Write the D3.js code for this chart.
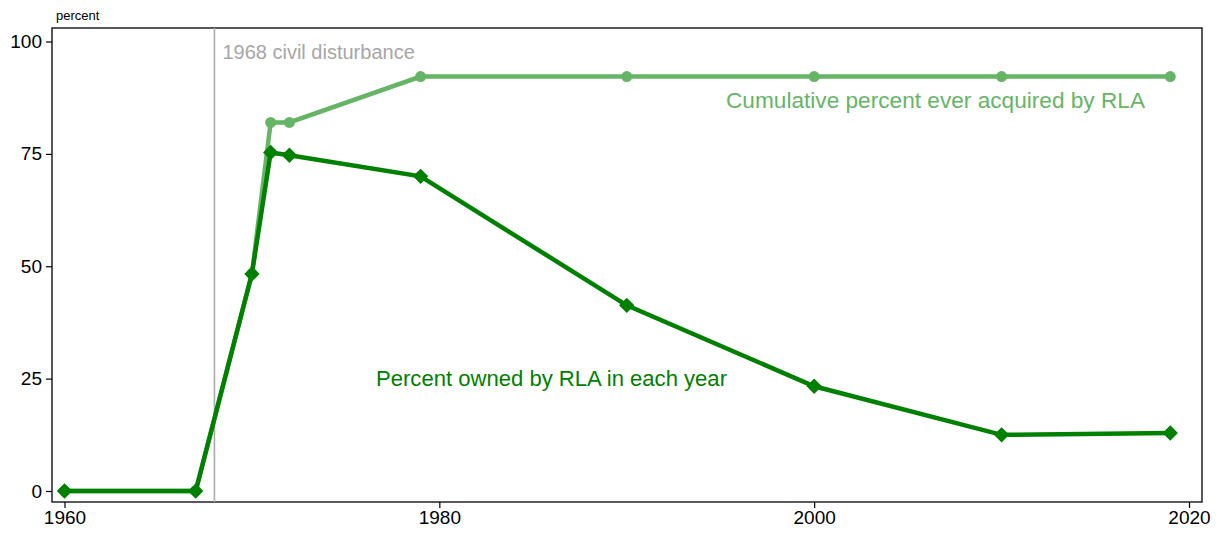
<!DOCTYPE html>
<html><head><meta charset="utf-8">
<script src="https://cdn.jsdelivr.net/npm/d3@7"></script>
<style>body{margin:0;background:#fff}svg{display:block;font-family:"Liberation Sans",Arial,sans-serif}</style>
</head><body><svg id="c" width="1220" height="535"></svg>
<script>
const years = [1960, 1967, 1970, 1971, 1972, 1979, 1990, 2000, 2010, 2019];
const ownedPct = [0, 0, 48.3, 75.3, 74.7, 70.0, 41.3, 23.3, 12.5, 12.9];
const cumulativePct = [0, 0, 48.3, 82.0, 82.0, 92.2, 92.2, 92.2, 92.2, 92.2];
const xTicks = [1960, 1980, 2000, 2020];
const yTicks = [0, 25, 50, 75, 100];
const eventYear = 1968;

const svg = d3.select("#c");
const L = 52, R = 1202, T = 28, B = 502;
const x = d3.scaleLinear().domain([1960, 2020]).range([64.5, 1189]);
const y = d3.scaleLinear().domain([0, 100]).range([491, 41.5]);

const lightC = "#66b566", darkC = "#008000";

svg.append("rect").attr("x", L).attr("y", T).attr("width", R - L).attr("height", B - T)
  .attr("fill", "none").attr("stroke", "#000").attr("stroke-width", 1.3);

const xa = svg.append("g").attr("transform", `translate(0,${B})`)
  .call(d3.axisBottom(x).tickValues(xTicks).tickFormat(d3.format("d")).tickSize(6).tickPadding(3));
xa.select(".domain").remove();
xa.selectAll("text").attr("font-size", 19).attr("fill", "#000").attr("font-family", "Liberation Sans, Arial, sans-serif");
xa.selectAll("line").attr("stroke", "#000").attr("stroke-width", 1.2);

const ya = svg.append("g").attr("transform", `translate(${L},0)`)
  .call(d3.axisLeft(y).tickValues(yTicks).tickSize(6).tickPadding(4));
ya.select(".domain").remove();
ya.selectAll("text").attr("font-size", 19).attr("fill", "#000").attr("font-family", "Liberation Sans, Arial, sans-serif");
ya.selectAll("line").attr("stroke", "#000").attr("stroke-width", 1.2);

svg.append("text").attr("x", 56).attr("y", 20).attr("font-size", 13).text("percent");

svg.append("line").attr("x1", x(eventYear)).attr("x2", x(eventYear)).attr("y1", T).attr("y2", B)
  .attr("stroke", "#aaa").attr("stroke-width", 1.6);
svg.append("text").attr("x", x(eventYear) + 8).attr("y", 59).attr("font-size", 20)
  .attr("fill", "#a6a6a6").text("1968 civil disturbance");

const line = d3.line().x(d => x(d[0])).y(d => y(d[1]));
const cum = years.map((yr, i) => [yr, cumulativePct[i]]);
const own = years.map((yr, i) => [yr, ownedPct[i]]);

svg.append("path").attr("d", line(cum)).attr("fill", "none").attr("stroke", lightC).attr("stroke-width", 4.5);
svg.selectAll("circle.c").data(cum).join("circle").attr("class", "c")
  .attr("cx", d => x(d[0])).attr("cy", d => y(d[1])).attr("r", 5.5).attr("fill", lightC);

svg.append("path").attr("d", line(own)).attr("fill", "none").attr("stroke", darkC).attr("stroke-width", 4.5);
const dsym = d3.symbol().type(d3.symbolDiamond2).size(150);
svg.selectAll("path.d").data(own).join("path").attr("class", "d")
  .attr("transform", d => `translate(${x(d[0])},${y(d[1])})`).attr("d", dsym).attr("fill", darkC);

svg.append("text").attr("x", 726).attr("y", 108).attr("font-size", 22.5).attr("fill", lightC)
  .attr("textLength", 419).attr("lengthAdjust", "spacingAndGlyphs")
  .text("Cumulative percent ever acquired by RLA");
svg.append("text").attr("x", 376).attr("y", 386).attr("font-size", 22.5).attr("fill", darkC)
  .attr("textLength", 351).attr("lengthAdjust", "spacingAndGlyphs")
  .text("Percent owned by RLA in each year");
</script></body></html>
